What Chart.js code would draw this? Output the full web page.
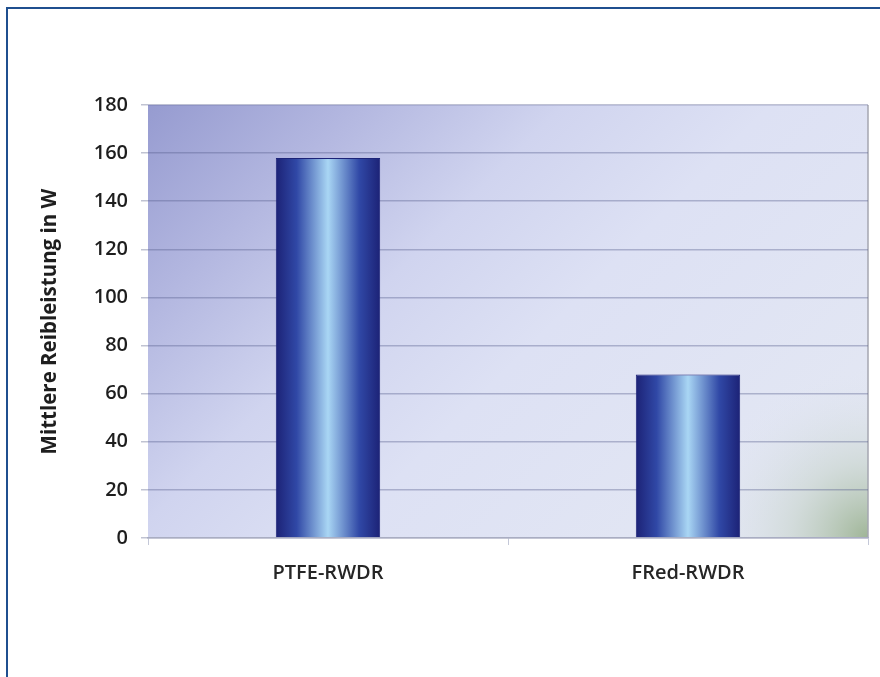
<!DOCTYPE html>
<html>
<head>
<meta charset="utf-8">
<script src="https://cdn.jsdelivr.net/npm/chart.js@4.4.1/dist/chart.umd.min.js"></script>
<style>
  html, body { margin: 0; padding: 0; background: #fff; }
  #frame { position: absolute; left: 6px; top: 7px; width: 874px; height: 670px;
           border-top: 2px solid #1f4f8f; border-left: 2px solid #1f4f8f; box-sizing: border-box; }
  #wrap { position: absolute; left: 0; top: 0; width: 880px; height: 677px; }
</style>
</head>
<body>
<div id="frame"></div>
<div id="wrap"><canvas id="reibChart" width="880" height="677"></canvas></div>
<script>
const categories = ['PTFE-RWDR', 'FRed-RWDR']
const reibleistung = [158, 68]
const yTitle = 'Mittlere Reibleistung in W'

const fontFamily = '"Open Sans", "DejaVu Sans", sans-serif'

// plot area background: periwinkle top-left, pale middle, greenish bottom-right
const plotBackground = {
    id: 'plotBackground',
    beforeDraw(chart) {
        const { ctx, chartArea: a } = chart
        ctx.save()
        const L = 520
        const lin = ctx.createLinearGradient(a.left, a.top, a.left + L, a.top + L)
        lin.addColorStop(0, '#969bd0')
        lin.addColorStop(0.2, '#b3b7e0')
        lin.addColorStop(0.4, '#d0d4ef')
        lin.addColorStop(0.6, '#dde1f4')
        lin.addColorStop(1, '#e3e7f3')
        ctx.fillStyle = lin
        ctx.fillRect(a.left, a.top, a.right - a.left, a.bottom - a.top)

        const rad = ctx.createRadialGradient(a.right, a.bottom, 0, a.right, a.bottom, 170)
        rad.addColorStop(0, 'rgba(155, 178, 145, 0.95)')
        rad.addColorStop(0.45, 'rgba(190, 205, 190, 0.45)')
        rad.addColorStop(1, 'rgba(225, 230, 242, 0)')
        ctx.fillStyle = rad
        ctx.fillRect(a.left, a.top, a.right - a.left, a.bottom - a.top)

        // right edge of the plot area
        ctx.strokeStyle = '#a4a6b0'
        ctx.lineWidth = 1.5
        ctx.beginPath()
        ctx.moveTo(a.right, a.top)
        ctx.lineTo(a.right, a.bottom)
        ctx.stroke()
        ctx.restore()
    },
}

const barGradient = (context) => {
    const chart = context.chart
    const xScale = chart.scales.x
    if (!chart.chartArea || !xScale) return '#3a4fa8'
    const cx = xScale.getPixelForValue(context.dataIndex)
    const half = (xScale.width / categories.length) * 0.29 / 2
    const g = chart.ctx.createLinearGradient(cx - half, 0, cx + half, 0)
    g.addColorStop(0, '#1c2276')
    g.addColorStop(0.2, '#3048a6')
    g.addColorStop(0.5, '#a9d6f4')
    g.addColorStop(0.8, '#3048a6')
    g.addColorStop(1, '#1c2276')
    return g
}

new Chart(document.getElementById('reibChart'), {
    type: 'bar',
    data: {
        labels: categories,
        datasets: [
            {
                label: yTitle,
                data: reibleistung,
                backgroundColor: barGradient,
                borderColor: '#1c2378',
                borderWidth: 1,
                categoryPercentage: 0.29,
                barPercentage: 1,
            },
        ],
    },
    options: {
        responsive: false,
        animation: false,
        layout: { padding: { top: 105, right: 12, left: 0, bottom: 0 } },
        plugins: {
            legend: { display: false },
            tooltip: { enabled: false },
        },
        scales: {
            x: {
                afterFit: (scale) => { scale.height = 139 },
                grid: {
                    offset: true,
                    drawOnChartArea: false,
                    drawTicks: true,
                    tickLength: 7,
                    tickColor: '#c4c8d8',
                },
                border: { color: '#a9adc2', width: 1.5 },
                ticks: {
                    padding: 16,
                    color: '#262626',
                    font: { family: fontFamily, size: 20, weight: '600' },
                },
            },
            y: {
                min: 0,
                max: 180,
                afterFit: (scale) => { scale.width = 148 },
                grid: {
                    color: 'rgba(85, 92, 140, 0.38)',
                    lineWidth: 1.5,
                    tickLength: 7,
                    tickColor: 'rgba(150, 155, 180, 0.6)',
                },
                border: { display: false },
                ticks: {
                    stepSize: 20,
                    padding: 13,
                    color: '#1e1e1e',
                    font: { family: fontFamily, size: 20, weight: '600' },
                },
                title: {
                    display: true,
                    text: yTitle,
                    color: '#1e1e1e',
                    padding: { top: 38, bottom: 0 },
                    font: { family: fontFamily, size: 20.5, weight: 'bold' },
                },
            },
        },
    },
    plugins: [plotBackground],
})
</script>
</body>
</html>
